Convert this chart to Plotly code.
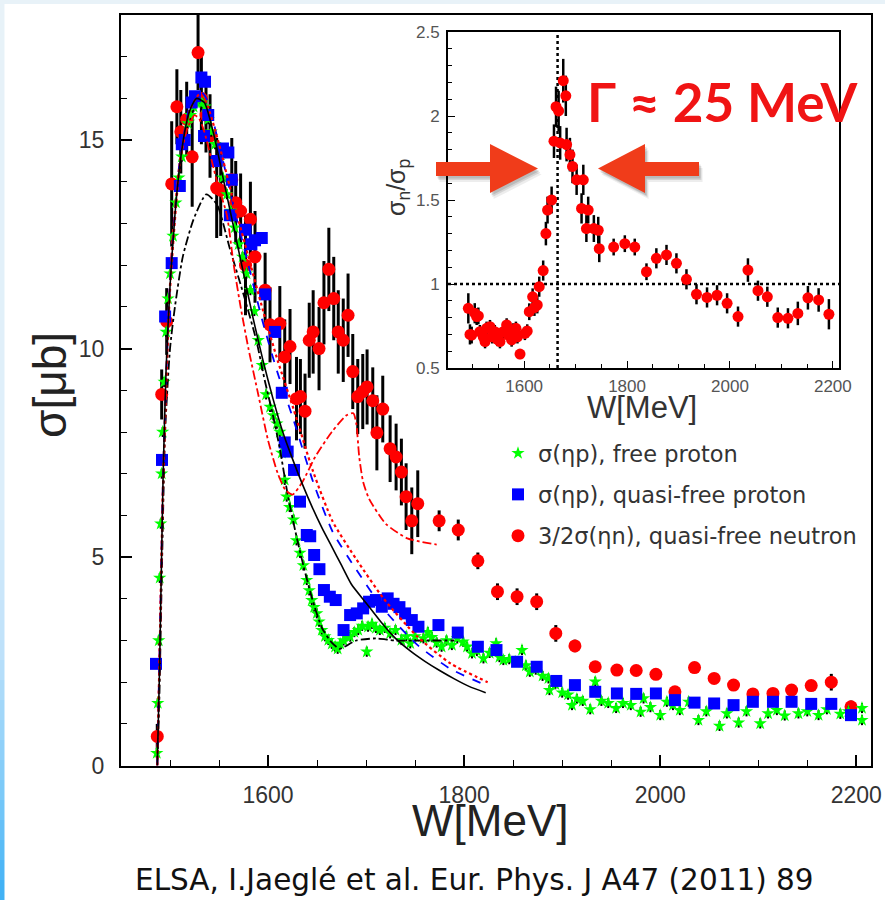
import plotly.graph_objects as go

FIG_W, FIG_H = 885, 900

# ---------------- sigma(eta p), free proton [mub] ----------------
W_FREE = [1486.5, 1487.5, 1488.5, 1489.5, 1490.5, 1491.5, 1492.5, 1494, 1496, 1498, 1500, 1503, 1506,
          1509, 1512, 1515, 1518, 1521, 1524, 1527, 1530, 1533, 1536, 1539, 1542, 1546, 1550, 1554,
          1558, 1562, 1566, 1570, 1574, 1578, 1582, 1586, 1590, 1594, 1598, 1602, 1605.4, 1609, 1612,
          1614, 1617, 1619, 1622, 1626, 1629, 1632.6, 1636, 1639.5, 1642, 1644.6, 1647, 1649.7, 1652,
          1654.8, 1658, 1661.5, 1665, 1668.4, 1671, 1673.5, 1677, 1680, 1683.7, 1688, 1692, 1696,
          1700.7, 1702, 1706, 1710, 1714, 1719, 1724.5, 1730, 1736, 1741, 1745, 1750, 1758.5, 1763,
          1767, 1772, 1777, 1782, 1787.5, 1793, 1799, 1803, 1808, 1813, 1819.7, 1826, 1832.6, 1836,
          1840, 1846, 1852, 1859, 1863, 1867, 1873, 1880, 1886, 1887, 1893, 1900, 1906, 1910, 1915,
          1921, 1928.6, 1933.7, 1940, 1947, 1955, 1962, 1970, 1980, 1983, 1990, 2000, 2006.8, 2013,
          2020, 2029, 2039, 2047, 2060.5, 2068, 2080, 2088, 2102, 2110, 2119, 2127, 2141, 2150,
          2161.5, 2170, 2183.7, 2192, 2205.8, 2205.8]
SIG_FREE = [0.3, 1.5, 3.0, 4.5, 5.8, 7.0, 8.0, 9.2, 10.4, 11.2, 11.8, 12.7, 13.5,
            14.1, 14.6, 15.0, 15.4, 15.6, 15.8, 15.9, 16.0, 15.9, 15.8, 15.5, 15.2, 14.9, 14.5, 14.1,
            13.7, 13.3, 12.9, 12.5, 12.2, 11.8, 11.4, 10.9, 10.2, 9.6, 8.9, 8.6, 8.4, 8.2, 8.0,
            7.5, 6.85, 6.45, 6.2, 5.9, 5.4, 5.1, 4.8, 4.45, 4.2, 3.97, 3.8, 3.65, 3.45,
            3.25, 3.1, 3.01, 2.92, 2.85, 2.8, 2.92, 3.0, 3.1, 3.09, 3.2, 3.25, 3.35,
            2.73, 3.33, 3.4, 3.3, 3.25, 3.3, 3.17, 3.25, 3.01, 3.1, 2.93, 3.1, 3.05, 3.2,
            3.08, 2.95, 2.85, 3.0, 2.89, 3.05, 2.97, 2.85, 2.69, 2.75, 2.57, 2.7, 2.93, 2.6,
            2.53, 2.55, 2.49, 2.77, 2.4, 2.25, 2.3, 2.15, 2.09, 1.81, 1.95, 1.75, 1.7, 1.45, 1.6,
            1.55, 1.35, 2.01, 1.55, 1.5, 1.38, 1.5, 1.45, 1.29, 1.61, 1.4, 1.21, 1.53, 1.45,
            1.33, 1.53, 1.09, 1.3, 0.95, 1.25, 1.03, 1.3, 1.01, 1.25, 1.33, 1.2, 1.25, 1.3,
            1.21, 1.35, 1.24, 1.3, 1.38, 1.09]

# ---------------- sigma(eta p), quasi-free proton [mub] ----------------
W_QFP = [1485.7, 1491.8, 1495, 1501.7, 1510, 1512, 1515, 1522, 1525.5, 1532, 1534.7, 1535.7, 1539,
         1547.6, 1554, 1559.5, 1561, 1563, 1577, 1583, 1586.7, 1593.6, 1597, 1607, 1614, 1617, 1620,
         1626.5, 1632.6, 1639.5, 1643, 1647, 1652.4, 1657, 1663, 1669, 1677, 1683.7, 1690.5, 1697,
         1703, 1710, 1716, 1722, 1728, 1734, 1739.8, 1746.6, 1753.4, 1773.8, 1793.5, 1814, 1833,
         1854, 1874, 1894, 1913, 1933.7, 1955.8, 1975.5, 1995.6, 2015, 2035, 2055, 2074.8, 2094.5,
         2115, 2134, 2154, 2174.5, 2194.6]
SIG_QFP = [2.44, 7.33, 10.77, 12.05, 13.9, 14.9, 15.0, 15.9, 16.05, 16.5, 15.1, 16.4, 15.6,
           14.5, 14.8, 14.7, 13.2, 14.05, 12.85, 12.5, 12.6, 12.65, 11.3, 10.4, 8.94, 7.75, 7.53,
           7.09, 6.33, 5.53, 5.5, 5.05, 4.71, 4.21, 4.05, 3.97, 3.25, 3.61, 3.65, 3.77,
           3.93, 3.97, 3.81, 4.01, 3.88, 3.8, 3.65, 3.49, 3.33, 3.37, 3.19, 2.85, 2.77,
           2.49, 2.37, 2.03, 1.93, 1.77, 1.73, 1.72, 1.73, 1.57, 1.51, 1.49, 1.45, 1.53,
           1.53, 1.53, 1.48, 1.48, 1.21]

# ---------------- 3/2 sigma(eta n), quasi-free neutron [mub] ----------------
W_QFN = [1487, 1491.5, 1496.6, 1501.7, 1507, 1511, 1517, 1522.6, 1528.6, 1532, 1536.7, 1540.8,
         1547.6, 1551.7, 1563, 1567, 1572, 1577, 1582, 1586.7, 1597, 1602, 1612, 1617, 1622.4,
         1629, 1633, 1637.7, 1642, 1646, 1652, 1657, 1662, 1667, 1671.6, 1676.7, 1681.6, 1686.4,
         1691.5, 1696.6, 1701, 1706.8, 1711, 1717, 1724.5, 1730.6, 1736, 1740.8, 1746.6, 1752.7,
         1774.5, 1794, 1814, 1834, 1854, 1874, 1893.5, 1913, 1933.7, 1955.8, 1975.5, 1995.6, 2015,
         2035, 2055, 2074.8, 2094.5, 2115, 2134, 2154, 2174.5, 2194.6]
SIG_QFN = [0.7, 8.9, 10.65, 13.95, 15.8, 15.2, 15.5, 14.6, 17.1, 16.0, 15.6, 15.1,
           13.85, 13.8, 14.05, 13.5, 13.3, 12.0, 13.1, 12.2, 11.4, 10.57, 10.6, 9.8, 10.05,
           8.8, 8.85, 8.5, 10.2, 10.4, 10.0, 11.1, 11.9, 11.2, 10.4, 10.2, 10.8, 9.45,
           8.85, 8.97, 9.08, 8.75, 7.98, 8.55, 7.6, 7.4, 7.04, 6.45, 5.87, 6.28,
           5.87, 5.65, 4.91, 4.17, 4.05, 3.93, 3.17, 2.87, 2.37, 2.29, 2.28, 2.19, 1.77,
           2.35, 2.09, 1.93, 1.72, 1.73, 1.81, 1.92, 2.0, 1.41]
ERR_QFN = [0.3, 0.6, 0.8, 1.5, 0.9, 1.0, 0.9, 1.2, 0.9, 1.1, 0.9, 1.0,
           1.2, 1.1, 1.0, 1.0, 0.9, 1.2, 0.9, 1.1, 0.9, 0.9, 0.9, 0.9, 0.9,
           1.0, 0.9, 0.9, 0.9, 1.0, 1.0, 1.0, 1.0, 1.0, 1.0, 1.0, 1.0, 0.9,
           0.9, 0.9, 0.9, 0.8, 0.9, 0.8, 0.8, 0.8, 0.8, 0.8, 0.8, 0.8,
           0.25, 0.25, 0.2, 0.2, 0.2, 0.2, 0.2, 0.15, 0.1, 0.1, 0.1, 0.1, 0.1,
           0.1, 0.1, 0.1, 0.1, 0.1, 0.1, 0.1, 0.2, 0.15]

# ---------------- model curves ----------------
W_SOLID = [1487, 1489, 1491, 1493, 1496, 1500, 1505, 1510, 1515, 1520, 1527, 1535, 1545, 1555, 1565,
           1575, 1585, 1595, 1605, 1615, 1625, 1635, 1645, 1655, 1665, 1675, 1685, 1700, 1715, 1730,
           1745, 1760, 1775, 1790, 1805, 1822]
SIG_SOLID = [0, 2.0, 4.5, 7.0, 9.5, 11.5, 13.2, 14.4, 15.2, 15.7, 16.0, 15.9, 15.1, 14.0, 12.9,
             11.8, 10.7, 9.7, 8.8, 8.0, 7.35, 6.75, 6.2, 5.7, 5.25, 4.8, 4.35, 3.9, 3.45, 3.05,
             2.75, 2.5, 2.28, 2.08, 1.9, 1.75]

W_DASH_BLUE = [1487, 1490, 1493, 1500, 1510, 1520, 1530, 1537, 1550, 1565, 1580, 1595, 1610, 1626,
               1646, 1666, 1690, 1718, 1752, 1786, 1822]
SIG_DASH_BLUE = [0, 3.5, 7.0, 11.6, 14.5, 15.8, 16.2, 16.0, 14.9, 13.4, 12.0, 10.6, 9.4, 8.29,
                 6.8, 5.6, 4.7, 3.75, 2.9, 2.32, 1.93]

W_DOT_RED = [1487, 1490, 1493, 1500, 1510, 1520, 1530, 1537, 1550, 1565, 1580, 1595, 1610, 1626,
             1646, 1666, 1690, 1718, 1752, 1786, 1824]
SIG_DOT_RED = [0, 3.4, 6.8, 11.4, 14.4, 15.7, 16.1, 15.9, 14.9, 13.5, 12.2, 10.9, 9.7, 8.55,
               7.05, 5.85, 4.95, 4.0, 3.1, 2.45, 2.0]

W_DASHDOT_BLACK = [1487, 1489, 1492, 1495, 1500, 1505, 1513, 1524, 1537, 1548, 1561, 1575, 1588,
                   1597, 1605, 1612, 1620, 1628, 1636, 1645, 1655, 1665, 1673, 1678, 1690, 1710,
                   1730, 1760, 1790]
SIG_DASHDOT_BLACK = [0, 1.5, 5.0, 8.0, 10.0, 11.0, 12.2, 13.1, 13.7, 13.45, 12.4, 11.3, 10.2,
                     9.2, 8.4, 7.6, 6.5, 5.6, 4.8, 4.0, 3.3, 2.95, 2.8, 2.85, 3.0, 3.05,
                     3.0, 3.0, 3.0]

W_DASHDOT_RED = [1487, 1490, 1493, 1497, 1502, 1510, 1518, 1525, 1530, 1535, 1548, 1558, 1565,
                 1572, 1580, 1590, 1600, 1610, 1618, 1625, 1635, 1648, 1665, 1680, 1687, 1690,
                 1693, 1697, 1703, 1720, 1742, 1772]
SIG_DASHDOT_RED = [0, 3.5, 7.0, 10.0, 12.5, 14.5, 15.3, 15.6, 15.5, 15.2, 14.0, 13.2, 12.0,
                   11.0, 10.0, 8.9, 7.8, 7.0, 6.6, 6.5, 6.8, 7.4, 8.0, 8.4, 8.45, 8.2,
                   7.4, 6.8, 6.4, 5.8, 5.45, 5.3]

# ---------------- ratio sigma_n / sigma_p ----------------
W_RATIO = [1491.5, 1494.7, 1498, 1504, 1507.7, 1511, 1514, 1520.5, 1524, 1527, 1533.6, 1538, 1543,
           1548, 1553, 1559.4, 1566, 1569, 1575.7, 1578.8, 1584, 1587, 1592, 1601.5, 1606, 1610,
           1616.5, 1620, 1625.5, 1629.3, 1637, 1642.3, 1645.5, 1653.4, 1658, 1662, 1667, 1670,
           1676, 1681, 1682.5, 1689, 1694, 1702, 1711.6, 1715, 1721, 1724.5, 1735.5, 1744, 1746,
           1774, 1795.7, 1815, 1837.8, 1857, 1876.7, 1896, 1915.5, 1935, 1955.5, 1975, 1994.5,
           2015.7, 2035, 2054.5, 2072.7, 2093, 2112.8, 2132, 2151.6, 2172.4, 2192.4]
RATIO = [0.855, 0.70, 0.696, 0.826, 0.806, 0.81, 0.716, 0.686, 0.657, 0.736, 0.746, 0.686, 0.716,
         0.67, 0.657, 0.716, 0.756, 0.696, 0.667, 0.726, 0.736, 0.686, 0.583, 0.706, 0.72, 0.835,
         0.924, 0.86, 0.875, 0.984, 1.08, 1.30, 1.44, 1.50, 1.85, 2.055, 2.03, 1.84,
         2.21, 2.12, 1.83, 1.77, 1.70, 1.62, 1.45, 1.62, 1.33, 1.44, 1.33, 1.32, 1.21,
         1.22, 1.24, 1.22, 1.073, 1.153, 1.173, 1.123, 1.028, 0.939, 0.92, 0.933, 0.885,
         0.806, 1.083, 0.96, 0.924, 0.80, 0.796, 0.825, 0.918, 0.905, 0.82]
ERR_RATIO = [0.09, 0.06, 0.05, 0.06, 0.05, 0.05, 0.04, 0.04, 0.04, 0.04, 0.04, 0.04, 0.04,
             0.04, 0.04, 0.04, 0.04, 0.04, 0.04, 0.04, 0.04, 0.04, 0.03, 0.04, 0.04, 0.05,
             0.05, 0.05, 0.05, 0.06, 0.06, 0.07, 0.08, 0.08, 0.1, 0.12, 0.12, 0.1,
             0.13, 0.12, 0.1, 0.1, 0.1, 0.09, 0.09, 0.09, 0.08, 0.08, 0.08, 0.08, 0.08,
             0.05, 0.05, 0.05, 0.05, 0.06, 0.06, 0.06, 0.06, 0.06, 0.06, 0.06, 0.06,
             0.06, 0.07, 0.06, 0.06, 0.06, 0.06, 0.07, 0.07, 0.07, 0.09]
W_PEAK = 1665

LEGEND_NAMES = ["σ(ηp), free proton", "σ(ηp), quasi-free proton", "3/2σ(ηn), quasi-free neutron"]

RED, BLUE, GREEN = "#ff0000", "#0000ff", "#00ff00"
TICK_FONT = "Liberation Sans, Arial, sans-serif"


def px(x):
    return x / FIG_W


def py(y):
    return 1 - y / FIG_H


fig = go.Figure()

# --- data points (main pad) ---
fig.add_trace(go.Scatter(
    x=W_QFN, y=SIG_QFN, mode="markers", name=LEGEND_NAMES[2], legendgroup="n", legendrank=3,
    marker=dict(symbol="circle", size=13, color=RED),
    error_y=dict(type="data", array=ERR_QFN, color="black", thickness=3, width=0),
    xaxis="x", yaxis="y"))
fig.add_trace(go.Scatter(
    x=W_FREE, y=SIG_FREE, mode="markers", name=LEGEND_NAMES[0], legendgroup="f", legendrank=1,
    marker=dict(symbol="star", size=10, color=GREEN),
    error_y=dict(type="constant", value=0.12, color="black", thickness=2, width=0),
    xaxis="x", yaxis="y"))
fig.add_trace(go.Scatter(
    x=W_QFP, y=SIG_QFP, mode="markers", name=LEGEND_NAMES[1], legendgroup="q", legendrank=2,
    marker=dict(symbol="square", size=12, color=BLUE),
    error_y=dict(type="constant", value=0.12, color="black", thickness=2, width=0),
    xaxis="x", yaxis="y"))

# --- model curves ---
curve_specs = [
    (W_DASHDOT_BLACK, SIG_DASHDOT_BLACK, "black", "dashdot", 1.8),
    (W_DASHDOT_RED, SIG_DASHDOT_RED, RED, "dashdot", 1.8),
    (W_DASH_BLUE, SIG_DASH_BLUE, BLUE, "dash", 1.8),
    (W_DOT_RED, SIG_DOT_RED, RED, "dot", 2.2),
    (W_SOLID, SIG_SOLID, "black", "solid", 1.6),
]
for wx, sy, col, dash, lw in curve_specs:
    fig.add_trace(go.Scatter(x=wx, y=sy, mode="lines", showlegend=False, hoverinfo="skip",
                             line=dict(color=col, dash=dash, width=lw, shape="spline", smoothing=0.6),
                             xaxis="x", yaxis="y"))

# --- inset: guide lines ---
fig.add_trace(go.Scatter(x=[W_PEAK, W_PEAK], y=[0.5, 2.5], mode="lines", showlegend=False,
                         line=dict(color="black", dash="dot", width=2.5), xaxis="x2", yaxis="y2"))
fig.add_trace(go.Scatter(x=[1452, 2212], y=[1, 1], mode="lines", showlegend=False,
                         line=dict(color="black", dash="dot", width=2.5), xaxis="x2", yaxis="y2"))
# --- inset: ratio ---
fig.add_trace(go.Scatter(
    x=W_RATIO, y=RATIO, mode="markers", showlegend=False,
    marker=dict(symbol="circle", size=11, color=RED),
    error_y=dict(type="data", array=ERR_RATIO, color="black", thickness=2.5, width=0),
    xaxis="x2", yaxis="y2"))

axis_common = dict(showline=True, linecolor="black", mirror=True, showgrid=False, zeroline=False,
                   ticks="inside", tickcolor="black", layer="above traces", automargin=False)

fig.update_layout(
    template="none",
    width=FIG_W, height=FIG_H, margin=dict(l=0, r=0, t=0, b=0, pad=0, autoexpand=False),
    paper_bgcolor="white", plot_bgcolor="white",
    xaxis=dict(domain=[px(121), px(871)], range=[1450, 2215], anchor="y",
               linewidth=2, ticklen=11, tickwidth=1.5, tickmode="linear", tick0=1600, dtick=200,
               tickfont=dict(family=TICK_FONT, size=23, color="#333"), ticklabelstandoff=8,
               minor=dict(ticks="inside", ticklen=6, tickwidth=1.2, tickcolor="black", dtick=50),
               **axis_common),
    yaxis=dict(domain=[py(765.6), py(15)], range=[0, 18], anchor="x",
               linewidth=2, ticklen=11, tickwidth=1.5, tickmode="linear", tick0=0, dtick=5,
               tickfont=dict(family=TICK_FONT, size=23, color="#333"), ticklabelstandoff=10,
               minor=dict(ticks="inside", ticklen=6, tickwidth=1.2, tickcolor="black", dtick=1),
               **axis_common),
    xaxis2=dict(domain=[px(448), px(839)], range=[1452, 2212], anchor="y2",
                linewidth=2, ticklen=7, tickwidth=1.2, tickmode="linear", tick0=1600, dtick=200,
                tickfont=dict(family=TICK_FONT, size=17, color="#555"), ticklabelstandoff=2,
                minor=dict(ticks="inside", ticklen=4, tickwidth=1, tickcolor="black", dtick=50),
                **axis_common),
    yaxis2=dict(domain=[py(368), py(32)], range=[0.5, 2.5], anchor="x2",
                linewidth=2, ticklen=7, tickwidth=1.2, tickmode="linear", tick0=0.5, dtick=0.5,
                tickfont=dict(family=TICK_FONT, size=17, color="#555"), ticklabelstandoff=3,
                minor=dict(ticks="inside", ticklen=4, tickwidth=1, tickcolor="black", dtick=0.1),
                **axis_common),
    showlegend=True,
    legend=dict(x=px(498), y=py(432), xanchor="left", yanchor="top", bgcolor="rgba(0,0,0,0)",
                borderwidth=0, traceorder="grouped", tracegroupgap=9,
                font=dict(family="DejaVu Sans, sans-serif", size=22.5, color="#333")),
)

# --- page decoration: light band on top and a blue gradient band on the left ---
shapes = [dict(type="rect", xref="paper", yref="paper", x0=0, x1=1, y0=py(4), y1=1,
               fillcolor="#e8f2f8", line=dict(width=0), layer="below")]
stops = [(0, (232, 242, 248)), (500, (220, 238, 250)), (650, (190, 225, 250)),
         (800, (120, 200, 248)), (900, (60, 175, 245))]
n_seg = 45
for i in range(n_seg):
    y0 = FIG_H * i / n_seg
    y1 = FIG_H * (i + 1) / n_seg
    ym = 0.5 * (y0 + y1)
    for (a, ca), (b, cb) in zip(stops[:-1], stops[1:]):
        if a <= ym <= b:
            t = (ym - a) / (b - a)
            c = tuple(int(round(ca[k] + t * (cb[k] - ca[k]))) for k in range(3))
            break
    shapes.append(dict(type="rect", xref="paper", yref="paper", x0=0, x1=px(4.5),
                       y0=py(y1), y1=py(y0), fillcolor="rgb(%d,%d,%d)" % c,
                       line=dict(width=0), layer="below"))


def poly(points, dx=0.0, dy=0.0):
    return "M " + " L ".join("%.5f,%.5f" % (px(x + dx), py(y + dy)) for x, y in points) + " Z"


# block arrows marking the width of the ratio peak
arrow_right = [(436, 162), (490, 162), (490, 144), (538, 168.5), (490, 193), (490, 176), (436, 176)]
arrow_left = [(699, 162), (645, 162), (645, 144), (598, 168.5), (645, 193), (645, 176), (699, 176)]
for arr in (arrow_right, arrow_left):
    for off, alpha in ((6, 0.07), (4, 0.10), (2.5, 0.12)):
        shapes.append(dict(type="path", xref="paper", yref="paper", path=poly(arr, off * 0.6, off),
                           fillcolor="rgba(0,0,0,%.2f)" % alpha, line=dict(width=0), layer="above"))
    shapes.append(dict(type="path", xref="paper", yref="paper", path=poly(arr),
                       fillcolor="#f03c1a", line=dict(width=0), layer="above"))
fig.update_layout(shapes=shapes)


def label(text, x, y, size, color="#222", family=TICK_FONT, angle=0):
    return dict(text=text, x=px(x), y=py(y), xref="paper", yref="paper", showarrow=False,
                xanchor="center", yanchor="middle", textangle=angle,
                font=dict(family=family, size=size, color=color))


annotations = [
    label("W[MeV]", 490, 820, 44),
    label("σ[μb]", 50, 385, 46, angle=-90),
    label("W[MeV]", 642, 407, 31, color="#333"),
    label("σ<sub>n</sub>/σ<sub>p</sub>", 398, 188, 25, color="#333", angle=-90),
    label("<b>Γ ≈ 25 MeV</b>", 722, 101, 53, color="#f01414", family="Lato, Open Sans, sans-serif"),
    label("ELSA, I.Jaeglé et al. Eur. Phys. J A47 (2011) 89", 474, 880, 29.5, color="#111",
          family="DejaVu Sans, sans-serif"),
]
fig.update_layout(annotations=annotations)

fig.write_html("out.html")
